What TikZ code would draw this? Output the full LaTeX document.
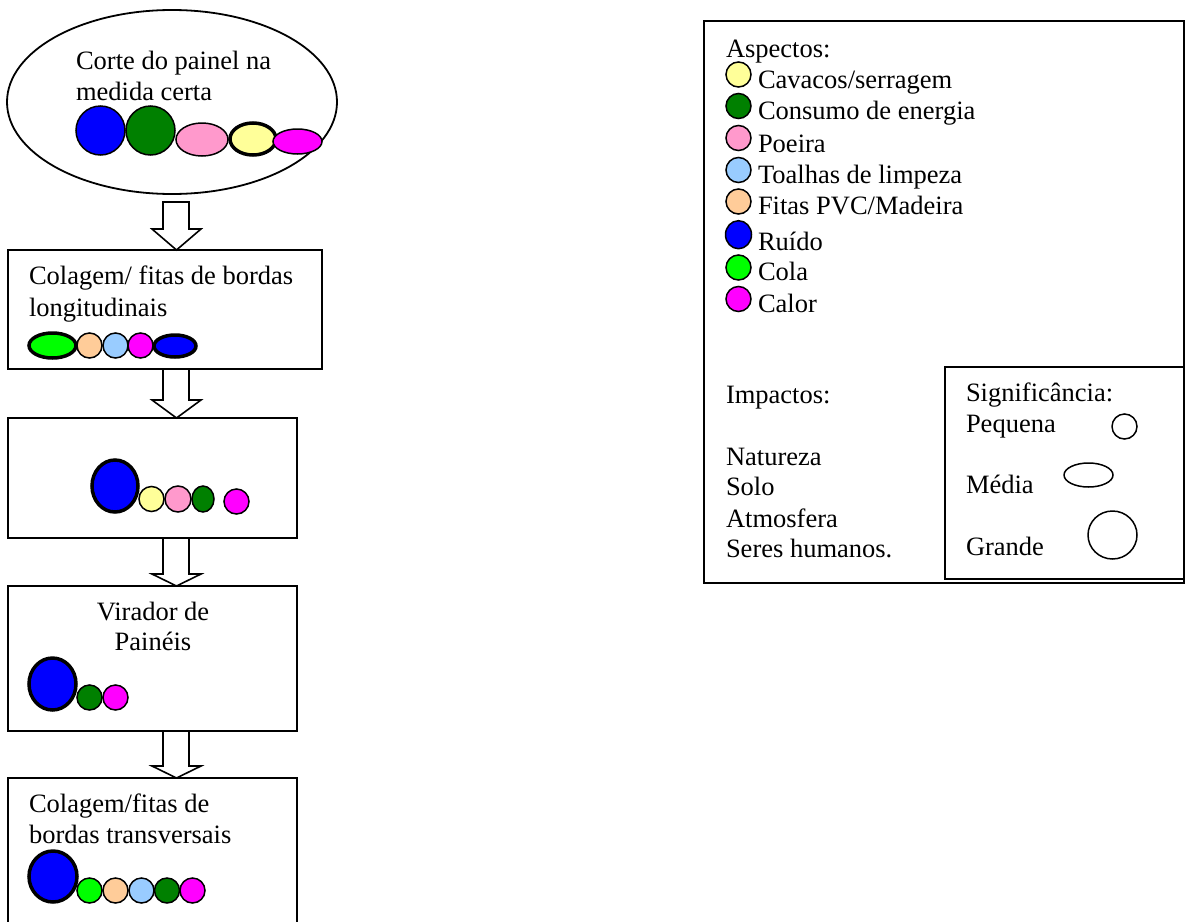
\documentclass[tikz,border=0pt]{standalone}
\usepackage{fontspec}
\setmainfont{Liberation Serif}
\usetikzlibrary{calc,shapes.geometric}

\definecolor{cblue}{HTML}{0000FF}
\definecolor{cgreen}{HTML}{008000}
\definecolor{cpink}{HTML}{FF99CC}
\definecolor{cyellow}{HTML}{FFFF99}
\definecolor{cmagenta}{HTML}{FF00FF}
\definecolor{clightblue}{HTML}{99CCFF}
\definecolor{cpeach}{HTML}{FFCC99}
\definecolor{clime}{HTML}{00FF00}

\tikzset{
  every node/.style={font=\fontsize{26.5}{31.5}\selectfont, inner sep=0pt, outer sep=0pt},
  frame/.style={draw, line width=1.8pt, rectangle, anchor=north west},
  lbl/.style={anchor=base west},
  clbl/.style={anchor=base},
  blob/.style={draw, line width=1.5pt},
  heavy/.style={draw, line width=3.5pt},
  hollow/.style={draw, line width=1.5pt},
  blockarrow/.style={draw, line width=1.6pt, fill=white, line join=miter},
}

% hollow down arrow: #1 start anchor, #2 end anchor, #3 head height, #4 gap below start
\newcommand\flowarrow[4]{%
  \draw[blockarrow] let \p1=($(#1)+(0,-#4)$), \p2=(#2) in
    (163pt,\y1) -- (163pt,{\y2+#3pt}) -- (152pt,{\y2+#3pt}) -- (176.5pt,\y2)
    -- (201pt,{\y2+#3pt}) -- (189pt,{\y2+#3pt}) -- (189pt,\y1) -- cycle;}

% filled aspect marker: [style] x y rx ry colour
\newcommand\blob[6][blob]{%
  \draw[#1, fill=#6] (#2,#3) ellipse [x radius=#4, y radius=#5];}

\begin{document}
\begin{tikzpicture}[x=1pt,y=1pt]
\useasboundingbox (0,0) rectangle (1185,-921);
\clip (0,0) rectangle (1185,-921);

% process steps
\node[draw, ellipse, line width=1.8pt, minimum width=330pt, minimum height=184pt] (e) at (172,-102) {};
\node[frame, minimum width=314pt, minimum height=119pt] (b2) at (8,-250) {};
\node[frame, minimum width=289pt, minimum height=120pt] (b3) at (8,-418) {};
\node[frame, minimum width=289pt, minimum height=145pt] (b4) at (8,-586) {};
\node[frame, minimum width=289pt, minimum height=200pt] (b5) at (8,-778) {};

\flowarrow{e.south}{b2.north}{21}{8}
\flowarrow{b2.south}{b3.north}{18}{0}
\flowarrow{b3.south}{b4.north}{12}{0}
\flowarrow{b4.south}{b5.north}{12}{0}

% step texts
\node[lbl] (e1) at (76,-69) {Corte do painel na};
\node[lbl] (e2) at (76,-100) {medida certa};
\node[lbl] (s21) at (29,-284) {Colagem/ fitas de bordas};
\node[lbl] (s22) at (29,-316) {longitudinais};
\node[clbl] (s41) at (153,-620) {Virador de};
\node[clbl] (s42) at (153,-650) {Painéis};
\node[lbl] (s51) at (29,-812) {Colagem/fitas de};
\node[lbl] (s52) at (29,-843) {bordas transversais};

% aspects of each step
\blob{100.5}{-130.5}{24.5}{24.5}{cblue}
\blob{150.5}{-130.5}{24.5}{24.5}{cgreen}
\blob{202}{-139.5}{26}{16.5}{cpink}
\blob[heavy]{253}{-139}{23}{16}{cyellow}
\blob{297.5}{-141.5}{24.5}{12.5}{cmagenta}

\blob[heavy]{52.5}{-345.5}{23.5}{12.5}{clime}
\blob{89.5}{-345.5}{12.5}{12.5}{cpeach}
\blob{115.5}{-345.5}{12.5}{12.5}{clightblue}
\blob{140.5}{-345.5}{12.5}{12.5}{cmagenta}
\blob[heavy]{175}{-346}{21}{11}{cblue}

\blob[heavy]{115}{-486}{23}{26}{cblue}
\blob{151.5}{-499}{12.5}{12.5}{cyellow}
\blob{178}{-499}{13}{13}{cpink}
\blob{203}{-499}{11}{13}{cgreen}
\blob{236.5}{-501.5}{12.5}{12.5}{cmagenta}

\blob[heavy]{52.5}{-684}{23.5}{26}{cblue}
\blob{89.5}{-697.5}{12.5}{12.5}{cgreen}
\blob{115.5}{-697.5}{12.5}{12.5}{cmagenta}

\blob[heavy]{53}{-876.5}{24}{25.5}{cblue}
\blob{89.5}{-890.5}{12.5}{12.5}{clime}
\blob{115.5}{-890.5}{12.5}{12.5}{cpeach}
\blob{141.5}{-890.5}{12.5}{12.5}{clightblue}
\blob{167}{-890.5}{12.5}{12.5}{cgreen}
\blob{192.5}{-890.5}{12.5}{12.5}{cmagenta}

% legend
\node[frame, minimum width=480pt, minimum height=562pt] (leg) at (704,-21) {};
\node[frame, minimum width=239pt, minimum height=212pt] (sig) at (945,-367) {};

\node[lbl] (asp) at (726,-57) {Aspectos:};
\blob{738.5}{-74.5}{12.5}{12.5}{cyellow}
\blob{738.5}{-106}{12.5}{12.5}{cgreen}
\blob{738.5}{-138}{12.5}{12.5}{cpink}
\blob{738.5}{-170}{12.5}{12.5}{clightblue}
\blob{738.5}{-201.5}{12.5}{12.5}{cpeach}
\blob{738.5}{-234.7}{13}{14}{cblue}
\blob{738.5}{-267.5}{12.5}{12.5}{clime}
\blob{738.5}{-299}{12.5}{12.5}{cmagenta}
\node[lbl] (a1) at (758,-88) {Cavacos/serragem};
\node[lbl] (a2) at (758,-119) {Consumo de energia};
\node[lbl] (a3) at (758,-152) {Poeira};
\node[lbl] (a4) at (758,-183) {Toalhas de limpeza};
\node[lbl] (a5) at (758,-214) {Fitas PVC/Madeira};
\node[lbl] (a6) at (758,-250) {Ruído};
\node[lbl] (a7) at (758,-280) {Cola};
\node[lbl] (a8) at (758,-312) {Calor};

\node[lbl] (imp) at (726,-403) {Impactos:};
\node[lbl] (i1) at (726,-465) {Natureza};
\node[lbl] (i2) at (726,-495) {Solo};
\node[lbl] (i3) at (726,-527) {Atmosfera};
\node[lbl] (i4) at (726,-557) {Seres humanos.};

\node[lbl] (sg) at (966,-401) {Significância:};
\node[lbl] (g1) at (966,-432) {Pequena};
\node[lbl] (g2) at (966,-493) {Média};
\node[lbl] (g3) at (966,-555) {Grande};
\draw[hollow] (1124.5,-426.5) ellipse [x radius=12.5, y radius=12.5];
\draw[hollow] (1088.5,-475) ellipse [x radius=24.5, y radius=12];
\draw[hollow] (1112.5,-535) ellipse [x radius=24.5, y radius=24];
\end{tikzpicture}
\end{document}
